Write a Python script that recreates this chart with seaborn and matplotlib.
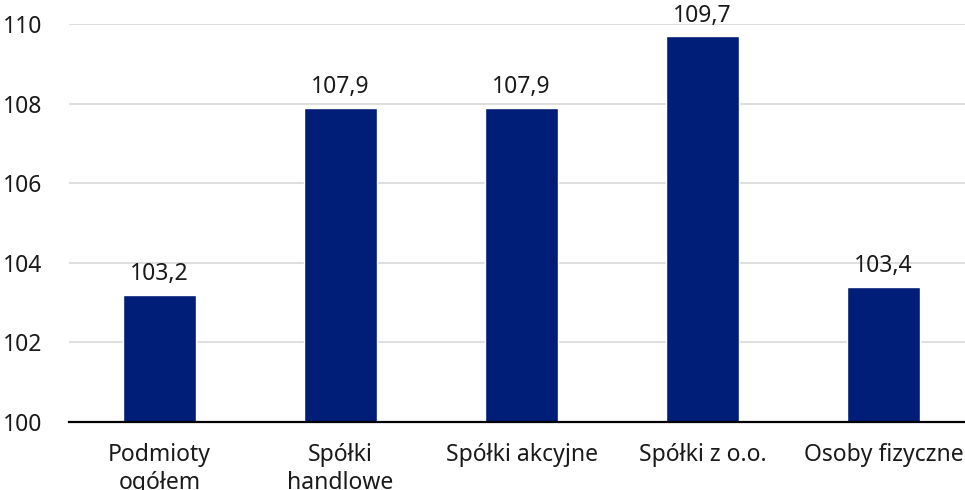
import pandas as pd
import matplotlib.pyplot as plt
import seaborn as sns

# data
categories = ["Podmioty\nogółem", "Spółki\nhandlowe", "Spółki akcyjne", "Spółki z o.o.", "Osoby fizyczne"]
values = [103.2, 107.9, 107.9, 109.7, 103.4]
labels = ["103,2", "107,9", "107,9", "109,7", "103,4"]

df = pd.DataFrame({"kategoria": categories, "wartosc": values})

sns.set_theme(style="white")
plt.rcParams["font.family"] = ["Noto Sans", "DejaVu Sans"]

fig = plt.figure(figsize=(9.65, 4.9), dpi=100)
ax = fig.add_axes([0.0715, 0.1388, 0.938, 0.812])

sns.barplot(data=df, x="kategoria", y="wartosc", color="#001D77",
            width=0.4, saturation=1, ax=ax, zorder=3)

ax.set_ylim(100, 110)
ax.set_yticks([100, 102, 104, 106, 108, 110])
ax.yaxis.grid(True, color="#D9D9D9", linewidth=1.2, zorder=0)
ax.set_axisbelow(True)

for s in ["top", "right", "left"]:
    ax.spines[s].set_visible(False)
ax.spines["bottom"].set_color("black")
ax.spines["bottom"].set_linewidth(1.6)
ax.spines["bottom"].set_zorder(4)

ax.tick_params(axis="both", length=0, labelsize=16.5, colors="#1A1A1A")
ax.tick_params(axis="y", pad=19)
ax.tick_params(axis="x", pad=15)
for t in ax.get_xticklabels():
    t.set_linespacing(1.25)
ax.set_xlabel("")
ax.set_ylabel("")

for i, (v, lab) in enumerate(zip(values, labels)):
    ax.annotate(lab, (i, v), xytext=(0, 6), textcoords="offset points",
                ha="center", va="bottom", fontsize=16.5, color="#1A1A1A")

fig.savefig("out.png", dpi=100)
